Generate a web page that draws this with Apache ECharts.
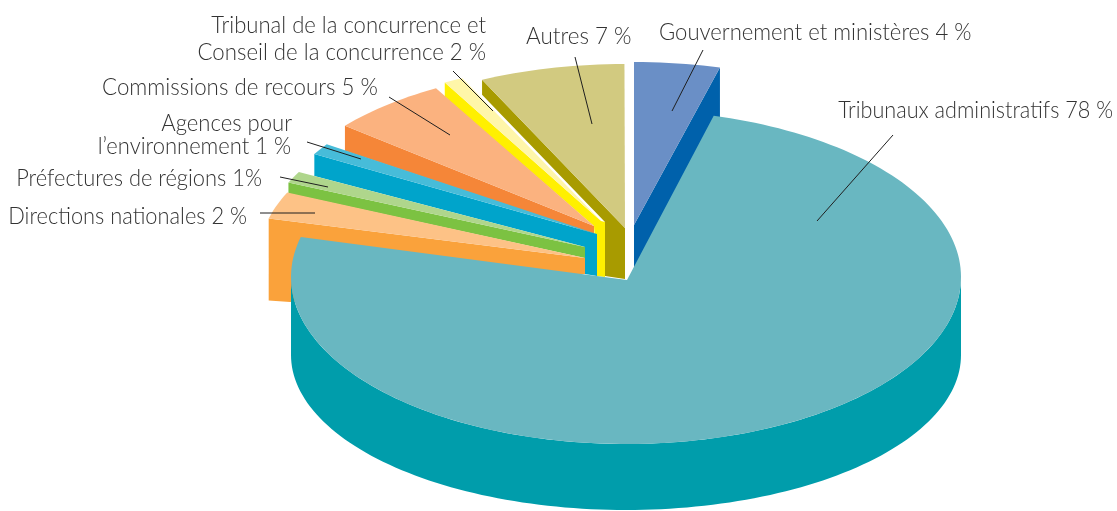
<!DOCTYPE html>
<html><head><meta charset="utf-8">
<style>html,body{margin:0;padding:0;background:#fff}#c{width:1117px;height:511px}</style>
<script src="https://cdn.jsdelivr.net/npm/echarts@6/dist/echarts.min.js"></script>
</head><body><div id="c"></div>
<script>
// DATA (clockwise from the top of the pie)
const sliceNames = ['Gouvernement et ministères','Tribunaux administratifs','Directions nationales','Préfectures de régions','Agences pour l’environnement','Commissions de recours','Tribunal de la concurrence et Conseil de la concurrence','Autres'];
const sliceValues = [4,78,2,1,1,5,2,7];
// STYLE
const faceColors = ['#6a8fc6','#69b7c1','#fdc286','#afd68c','#47bcd9','#fbb27f','#fff6a9','#d2ca80'];
const wallColors = ['#0061ab','#009dab','#faa23b','#7cc242','#00a4cb','#f58638','#fff000','#a89b00'];
// 3-D pie layout: exploded apex, radii, perspective correction of each sweep
const apexes = [[634,225],[627,280],[585,258],[585,247],[597,234],[594,226],[601,221],[625,228]];
const radiiY = [163,167,160,159,160,158,158.2,164];
const aspect = 2.04;
const sweepFit = [1.04,.957,1.375,1.167,1.14,1.18,.486,1.0];
const gapBefore = [0,.2,.4,-.3,1.9,5.3,.4,.16];
const wallInner = [[[0,45]],[],[[0,16],[-295,44]],[[0,11]],[[0,42],[-12,40],[-12,13]],[[0,8]],[[4,1],[4,56],[-4,55],[-7,5]],[[0,51],[-20,48],[-20,-6]]];
const wallOuterDrop = [50,0,82,11,22,25,15,15];
const wallAtEnd = [true,false,false,false,false,false,false,false];
const mainTop = {cx:626, cy:277, rx:335};
const mainBase = {cx:626, cy:355, rx:335, ry:155};
const drawOrder = [6,7,0,5,4,3,2,1];

const labelTexts = [
 {t:'Gouvernement et ministères 4 %',x:659,y:33,a:'left',fit:.96},
 {t:'Autres 7 %',x:526,y:37,a:'left',fit:.975},
 {t:'Tribunal de la concurrence et',x:486,y:26,a:'right',fit:.96},
 {t:'Conseil de la concurrence 2 %',x:486,y:53,a:'right',fit:.966},
 {t:'Commissions de recours 5 %',x:378,y:88,a:'right',fit:.97},
 {t:'Agences pour',x:292,y:124,a:'right',fit:.96},
 {t:'l’environnement 1 %',x:291,y:147,a:'right',fit:.955},
 {t:'Préfectures de régions 1%',x:262,y:179,a:'right',fit:.95},
 {t:'Directions nationales 2 %',x:247,y:217,a:'right',fit:.948},
 {t:'Tribunaux administratifs 78 %',x:1113,y:111,a:'right',fit:.94}
];
const leaderLines = [
 [703,50,672,111],[575,57,592,124],[453,71,493,111],[389,97,450,135],
 [307,142,361,159],[280,177,328,187],[260,213,315,213],[893,135,817,221]
];

// cumulative angles from the values
const spans = []; let cursor = 0;
sliceValues.forEach((v,i)=>{ const from = cursor + gapBefore[i]; const to = from + v*3.6*sweepFit[i]; spans.push([from,to]); cursor = to; });
const rad = d => d*Math.PI/180;
const pt = (c,ry,d,rx) => [c[0] + (rx||aspect*ry)*Math.sin(rad(d)), c[1] - ry*Math.cos(rad(d))];
function arc(c,ry,a,b,rx){ const n=Math.max(2,Math.ceil(Math.abs(b-a)/1.5)), out=[]; for(let k=0;k<=n;k++) out.push(pt(c,ry,a+(b-a)*k/n,rx)); return out; }

function renderSlice(params, api){
  const i = api.value(1), P = apexes[i], ry = radiiY[i], s = spans[i], kids = [];
  if(i===1){
    const C = [mainTop.cx,mainTop.cy];
    const top = arc(C,ry,90,270,mainTop.rx);
    const base = arc([mainBase.cx,mainBase.cy],mainBase.ry,270,90,mainBase.rx);
    kids.push({type:'polygon',shape:{points:top.concat(base)},style:{fill:wallColors[i]}});
    kids.push({type:'polygon',shape:{points:[P].concat(arc(C,ry,s[0],s[1],mainTop.rx))},style:{fill:faceColors[i]}});
  } else {
    const A = pt(P,ry,wallAtEnd[i]?s[1]:s[0]);
    const pts = [A,P].concat(wallInner[i].map(o=>[P[0]+o[0],P[1]+o[1]]),[[A[0],A[1]+wallOuterDrop[i]]]);
    kids.push({type:'polygon',shape:{points:pts},style:{fill:wallColors[i]}});
    kids.push({type:'polygon',shape:{points:[P].concat(arc(P,ry,s[0],s[1]))},style:{fill:faceColors[i]}});
  }
  return {type:'group',children:kids};
}
function renderLeader(params, api){
  const l = leaderLines[api.value(0)];
  return {type:'line',shape:{x1:l[0],y1:l[1],x2:l[2],y2:l[3]},style:{stroke:'#1f1f1f',lineWidth:1}};
}
const chart = echarts.init(document.getElementById('c'),null,{renderer:'canvas'});
chart.setOption({
  animation:false,
  backgroundColor:'#fff',
  series:[
    {type:'custom',coordinateSystem:'none',silent:true,z:1,renderItem:renderSlice,
     data:drawOrder.map(i=>({name:sliceNames[i],value:[sliceValues[i],i]}))},
    {type:'custom',coordinateSystem:'none',silent:true,z:2,renderItem:renderLeader,
     data:leaderLines.map((l,i)=>[i])}
  ],
  graphic:labelTexts.map(l=>({type:'text',z:3,silent:true,x:l.x,y:l.y,scaleX:l.fit,
    style:{text:l.t,align:l.a,verticalAlign:'middle',fill:'#333',
      font:'300 23px Lato, "Open Sans", sans-serif'}}))
});
</script></body></html>
